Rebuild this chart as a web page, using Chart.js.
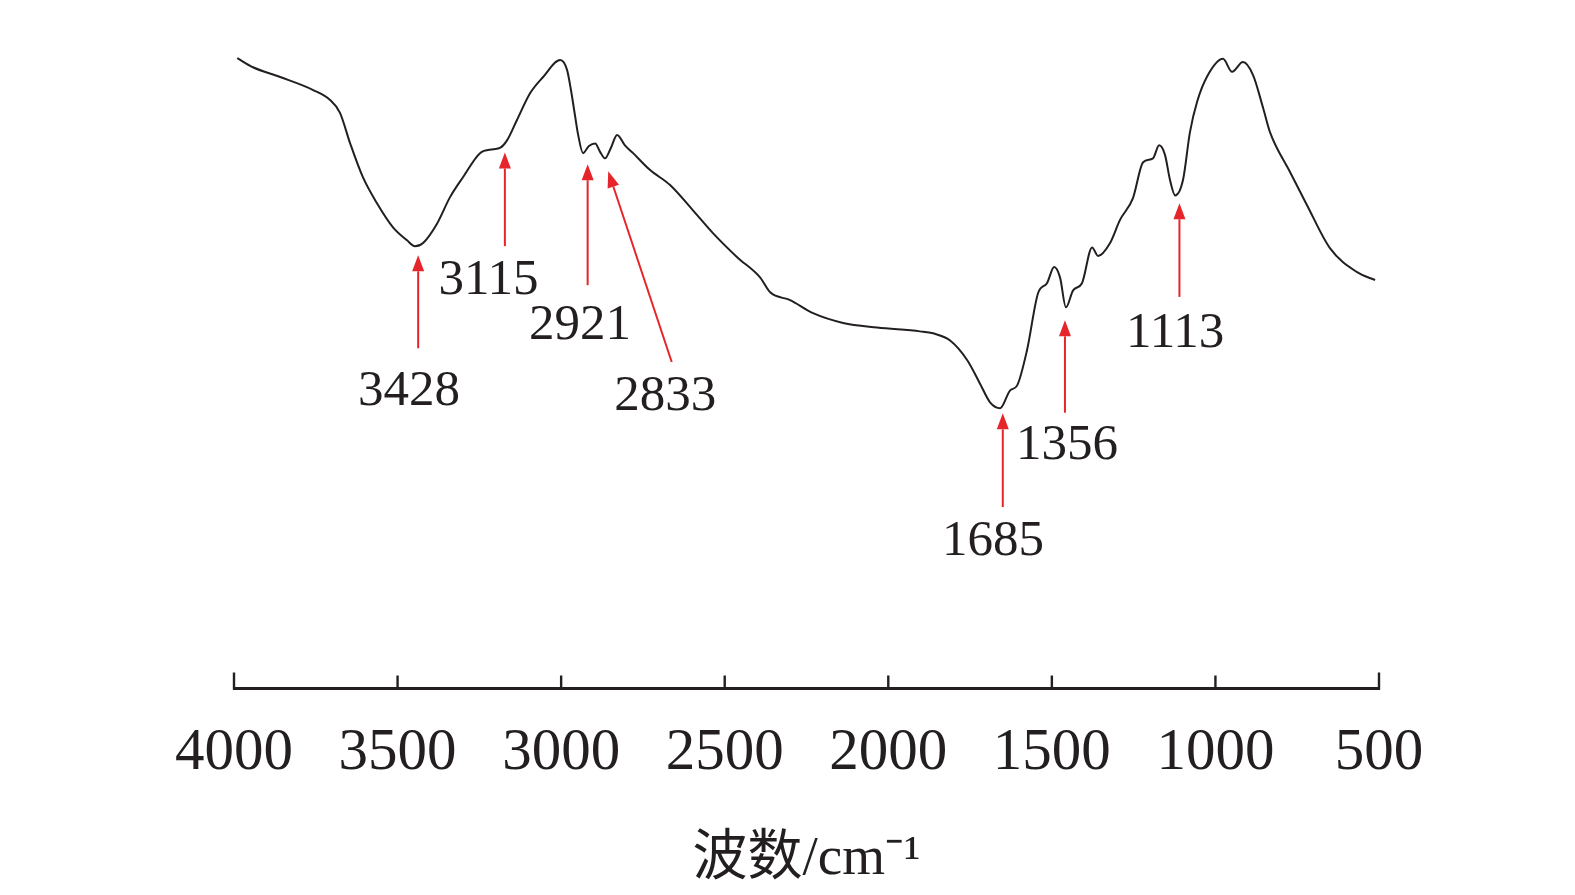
<!DOCTYPE html>
<html>
<head>
<meta charset="utf-8">
<script src="https://cdn.jsdelivr.net/npm/chart.js@4.4.1/dist/chart.umd.min.js"></script>
<style>
  html, body { margin: 0; padding: 0; background: #fff; }
</style>
</head>
<body>
<canvas id="irChart" width="1575" height="895"></canvas>
<script>
// spectrum, high wavenumber to low
const wavenumbers = [
  3990, 3942, 3859, 3758, 3707, 3676, 3645, 3606, 3563, 3514,
  3471, 3447, 3422, 3379, 3340, 3300, 3248, 3208, 3187, 3165,
  3135, 3095, 3055, 3003, 2982, 2970, 2958, 2948, 2933, 2915,
  2896, 2881, 2866, 2848, 2829, 2805, 2780, 2728, 2667, 2597,
  2536, 2462, 2392, 2361, 2300, 2230, 2138, 2034, 1903, 1863,
  1811, 1759, 1720, 1689, 1658, 1628, 1606, 1576, 1542, 1515,
  1493, 1475, 1457, 1435, 1408, 1377, 1359, 1322, 1292, 1252,
  1221, 1191, 1172, 1154, 1139, 1123, 1099, 1078, 1056, 1023,
  977, 949, 916, 885, 854, 833, 772, 720, 650, 567, 512
];
const transmittance = [
  96.9, 95.5, 94.0, 92.0, 90.5, 88.5, 83.8, 78.6, 74.6, 70.9,
  68.9, 68.0, 68.5, 71.5, 75.5, 78.6, 82.3, 82.9, 83.1, 84.3,
  87.4, 91.5, 94.0, 96.6, 95.1, 92.0, 88.2, 85.1, 82.3, 83.4,
  83.8, 82.5, 81.5, 83.1, 85.1, 83.5, 82.3, 79.7, 77.4, 73.5,
  70.0, 66.3, 63.2, 60.9, 59.7, 57.7, 56.2, 55.5, 54.9, 54.6,
  53.5, 50.5, 46.9, 44.0, 43.1, 45.8, 46.6, 52.0, 60.8, 62.3,
  64.8, 63.2, 58.6, 61.2, 62.3, 67.8, 66.5, 68.5, 72.0, 75.4,
  80.9, 81.5, 83.5, 82.0, 78.2, 75.8, 78.2, 85.5, 90.2, 94.3,
  96.8, 94.8, 96.3, 94.3, 89.2, 85.5, 79.4, 74.3, 67.7, 64.0, 62.8
];
const xTicks = [4000, 3500, 3000, 2500, 2000, 1500, 1000, 500];

// marked bands
const peakLabels = ['3428', '3115', '2921', '2833', '1685', '1356', '1113'];
// where the arrows and their labels sit, in axis units [wavenumber, y]
const arrowTips  = [[3437, 66.6], [3172, 82.4], [2919, 80.6], [2856, 79.5], [1650, 42.3], [1460, 56.6], [1110, 74.6]];
const arrowTails = [[3437, 52.3], [3172, 68.0], [2919, 62.0], [2662, 50.2], [1650, 27.9], [1460, 42.4], [1110, 60.2]];
const labelSpots = [[3465, 45.6], [3222, 62.7], [2942, 55.8], [2682, 44.9], [1680, 22.6], [1454, 37.4], [1123, 54.6]];

const INK = '#231f20';
const RED = '#e5252a';
const SERIF = "'Liberation Serif', 'Times New Roman', serif";

// ticks pointing up from the axis + red arrows with band numbers
const marksPlugin = {
    id: 'marks',
    afterDraw(chart) {
        const ctx = chart.ctx;
        const x = chart.scales.x;
        const y = chart.scales.y;
        ctx.save();

        ctx.strokeStyle = INK;
        ctx.lineWidth = 2.4;
        x.ticks.forEach((t, i) => {
            const px = x.getPixelForValue(t.value);
            const len = (i === 0 || i === x.ticks.length - 1) ? 17 : 14;
            ctx.beginPath();
            ctx.moveTo(px, x.top + 1);
            ctx.lineTo(px, x.top + 1 - len);
            ctx.stroke();
        });

        peakLabels.forEach((txt, i) => {
            const tx = x.getPixelForValue(arrowTips[i][0]);
            const ty = y.getPixelForValue(arrowTips[i][1]);
            const sx = x.getPixelForValue(arrowTails[i][0]);
            const sy = y.getPixelForValue(arrowTails[i][1]);
            const ang = Math.atan2(ty - sy, tx - sx);
            const head = 16, half = 6;
            const bx = tx - head * Math.cos(ang);
            const by = ty - head * Math.sin(ang);

            ctx.strokeStyle = RED;
            ctx.fillStyle = RED;
            ctx.lineWidth = 2;
            ctx.beginPath();
            ctx.moveTo(sx, sy);
            ctx.lineTo(bx, by);
            ctx.stroke();

            ctx.beginPath();
            ctx.moveTo(tx, ty);
            ctx.lineTo(bx + half * Math.sin(ang), by - half * Math.cos(ang));
            ctx.lineTo(bx - half * Math.sin(ang), by + half * Math.cos(ang));
            ctx.closePath();
            ctx.fill();

            ctx.fillStyle = INK;
            ctx.font = '51px ' + SERIF;
            ctx.textAlign = 'center';
            ctx.textBaseline = 'middle';
            ctx.fillText(txt, x.getPixelForValue(labelSpots[i][0]), y.getPixelForValue(labelSpots[i][1]));
        });
        ctx.restore();
    }
};

const ctx = document.getElementById('irChart').getContext('2d');

new Chart(ctx, {
    type: 'line',
    data: {
        datasets: [{
            data: wavenumbers.map((w, i) => ({ x: w, y: transmittance[i] })),
            borderColor: INK,
            borderWidth: 2,
            pointRadius: 0,
            fill: false,
            cubicInterpolationMode: 'monotone'
        }]
    },
    options: {
        responsive: false,
        animation: false,
        layout: { padding: { left: 234, right: 196, top: 38, bottom: 0 } },
        plugins: {
            legend: { display: false },
            tooltip: { enabled: false }
        },
        scales: {
            x: {
                type: 'linear',
                reverse: true,
                min: 500,
                max: 4000,
                afterBuildTicks: s => { s.ticks = xTicks.map(v => ({ value: v })); },
                afterFit: s => { s.height = 206.5; },
                grid: { display: false, drawTicks: false },
                border: { display: true, width: 3, color: INK },
                ticks: {
                    color: INK,
                    padding: 30,
                    maxRotation: 0,
                    font: { family: SERIF, size: 59 },
                    callback: v => String(v)
                },
                title: {
                    display: true,
                    text: '波数/cm⁻¹',
                    color: INK,
                    padding: { top: 0, bottom: 2 },
                    font: { family: "'Liberation Serif', 'Noto Sans CJK SC', serif", size: 55 }
                }
            },
            y: {
                display: false,
                min: 0,
                max: 100
            }
        }
    },
    plugins: [marksPlugin]
});
</script>
</body>
</html>
